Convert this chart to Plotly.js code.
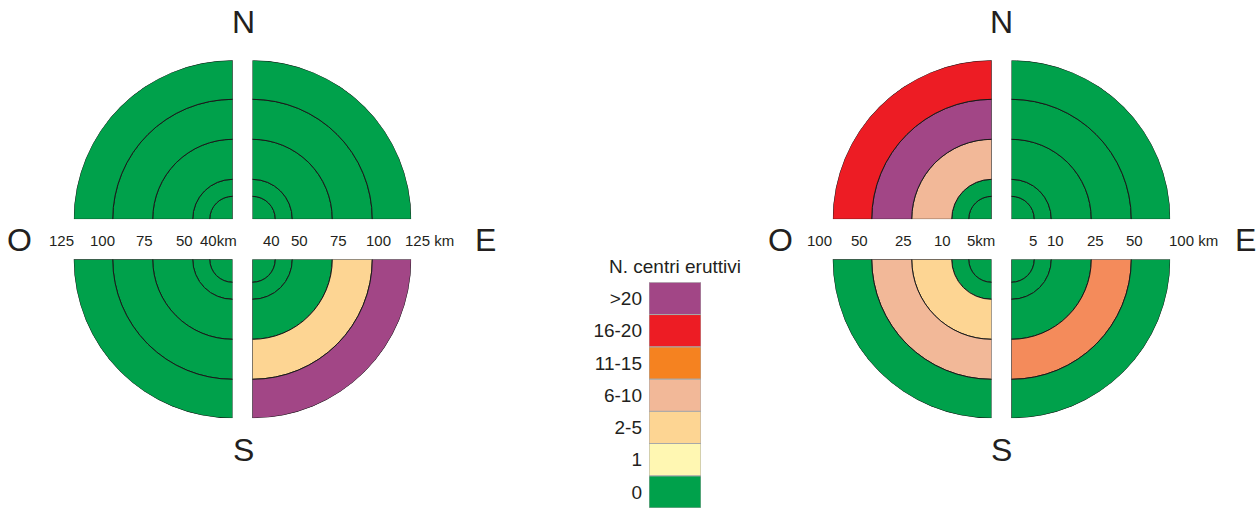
<!DOCTYPE html>
<html>
<head>
<meta charset="utf-8">
<script src="https://cdn.plot.ly/plotly-3.0.1.min.js"></script>
<style>html,body{margin:0;padding:0;background:#fff;}#chart{width:1256px;height:511px;}</style>
</head>
<body>
<div id="chart"></div>
<script>
// ---------- DATA ----------
const classLabels = ["0", "1", "2-5", "6-10", "11-15", "16-20", ">20"];
const legendTitle = "N. centri eruttivi";
const distLeft = [40, 50, 75, 100, 125];   // km, ring outer limits (left diagram)
const distRight = [5, 10, 25, 50, 100];    // km, ring outer limits (right diagram)
const compass = ["N", "S", "O", "E"];
// class index per ring (inner -> outer), per quadrant
const leftNW = [0, 0, 0, 0, 0];
const leftNE = [0, 0, 0, 0, 0];
const leftSW = [0, 0, 0, 0, 0];
const leftSE = [0, 0, 0, 2, 6];
const rightNW = [0, 0, 3, 6, 5];
const rightNE = [0, 0, 0, 0, 0];
const rightSW = [0, 0, 2, 3, 0];
const rightSE = [0, 0, 0, 4, 0];

// ---------- STYLE ----------
const W = 1256, H = 511;
const FONT = "Liberation Sans, Arial, sans-serif";
const TXT = "#231f20";
const legendColors = ["#00a14b", "#fff7b2", "#fdd593", "#f2b898", "#f58220", "#ed1c24", "#a24686"];
const mapColors = ["#00a14b", "#fff7b2", "#fdd593", "#f2b898", "#f48b5b", "#ed1c24", "#a24686"];
const ringPx = [23, 40, 80, 120, 159];     // display outer radius of each ring (px)
const R = 159;
const px = x => x / W;
const py = y => 1 - y / H;

const diagrams = [
  {quads: {NW: leftNW, NE: leftNE, SW: leftSW, SE: leftSE},
   xl: 232.7, xr: 252.3, yt: 219.3, yb: 259.3,
   labL: [61, 102, 144, 184, 218], labR: [271, 299, 338, 378, 429], dist: distLeft,
   cx: 243, xO: 19, xE: 485.5},
  {quads: {NW: rightNW, NE: rightNE, SW: rightSW, SE: rightSE},
   xl: 991.7, xr: 1011.3, yt: 219.3, yb: 259.3,
   labL: [819, 859.5, 904, 942, 981], labR: [1033, 1055, 1095, 1134, 1193], dist: distRight,
   cx: 1001.5, xO: 780, xE: 1245}
];

const quadDefs = {
  NE: {sector: [0, 90], theta: 45},
  NW: {sector: [90, 180], theta: 135},
  SW: {sector: [180, 270], theta: 225},
  SE: {sector: [270, 360], theta: 315}
};

const traces = [];
const layout = {
  width: W, height: H,
  margin: {l: 0, r: 0, t: 0, b: 0},
  paper_bgcolor: "#ffffff", plot_bgcolor: "rgba(0,0,0,0)",
  showlegend: false,
  font: {family: FONT, color: TXT},
  annotations: [],
  bargap: 0
};

let pIndex = 0;
diagrams.forEach(d => {
  ["NW", "NE", "SW", "SE"].forEach(q => {
    pIndex++;
    const key = pIndex === 1 ? "polar" : "polar" + pIndex;
    const west = q[1] === "W", north = q[0] === "N";
    const x0 = west ? d.xl - R : d.xr, x1 = west ? d.xl : d.xr + R;
    const yTop = north ? d.yt - R : d.yb, yBot = north ? d.yt : d.yb + R;
    layout[key] = {
      domain: {x: [px(x0), px(x1)], y: [py(yBot), py(yTop)]},
      sector: quadDefs[q].sector,
      bgcolor: "rgba(0,0,0,0)",
      barmode: "overlay",
      radialaxis: {visible: false, range: [0, R]},
      angularaxis: {visible: false}
    };
    const cls = d.quads[q];
    traces.push({
      type: "barpolar",
      subplot: key,
      theta: cls.map(() => quadDefs[q].theta),
      base: cls.map((c, i) => i === 0 ? 0 : ringPx[i - 1]),
      r: cls.map((c, i) => ringPx[i] - (i === 0 ? 0 : ringPx[i - 1])),
      width: cls.map(() => 90),
      marker: {color: cls.map(c => mapColors[c]), line: {color: "#1a1a1a", width: 1}},
      hoverinfo: "skip"
    });
  });
  // distance labels
  const n = d.dist.length;
  const leftTexts = d.dist.slice().reverse().map((v, i) => i === n - 1 ? v + "km" : String(v));
  const rightTexts = d.dist.map((v, i) => i === n - 1 ? v + " km" : String(v));
  leftTexts.forEach((t, i) => layout.annotations.push({
    text: t, x: px(d.labL[i]), y: py(240), xref: "paper", yref: "paper",
    showarrow: false, xanchor: "center", yanchor: "middle", font: {size: 15, family: FONT, color: TXT}
  }));
  rightTexts.forEach((t, i) => layout.annotations.push({
    text: t, x: px(d.labR[i]), y: py(240), xref: "paper", yref: "paper",
    showarrow: false, xanchor: "center", yanchor: "middle", font: {size: 15, family: FONT, color: TXT}
  }));
  // compass letters
  const pos = {N: [d.cx, 21.5], S: [d.cx, 450], O: [d.xO, 240], E: [d.xE, 240]};
  compass.forEach(c => layout.annotations.push({
    text: c, x: px(pos[c][0]), y: py(pos[c][1]), xref: "paper", yref: "paper",
    showarrow: false, xanchor: "center", yanchor: "middle", font: {size: 32, family: FONT, color: TXT}
  }));
});

// legend as horizontal bars on a categorical axis
traces.push({
  type: "bar", orientation: "h",
  y: classLabels, x: classLabels.map(() => 1),
  xaxis: "x", yaxis: "y",
  marker: {color: legendColors, line: {color: "#a8a8a8", width: 1}},
  hoverinfo: "skip"
});
layout.xaxis = {domain: [px(649), px(701)], range: [0, 1], visible: false, fixedrange: true};
layout.yaxis = {
  domain: [py(508), py(282.3)], type: "category", categoryorder: "array", categoryarray: classLabels,
  showgrid: false, zeroline: false, showline: false, ticks: "", ticklabelstandoff: 6,
  tickfont: {size: 19, family: FONT, color: TXT}, fixedrange: true
};
layout.annotations.push({
  text: legendTitle, x: px(675), y: py(266.5), xref: "paper", yref: "paper",
  showarrow: false, xanchor: "center", yanchor: "middle", font: {size: 19, family: FONT, color: TXT}
});

Plotly.newPlot("chart", traces, layout, {staticPlot: true, displayModeBar: false});
</script>
</body>
</html>
